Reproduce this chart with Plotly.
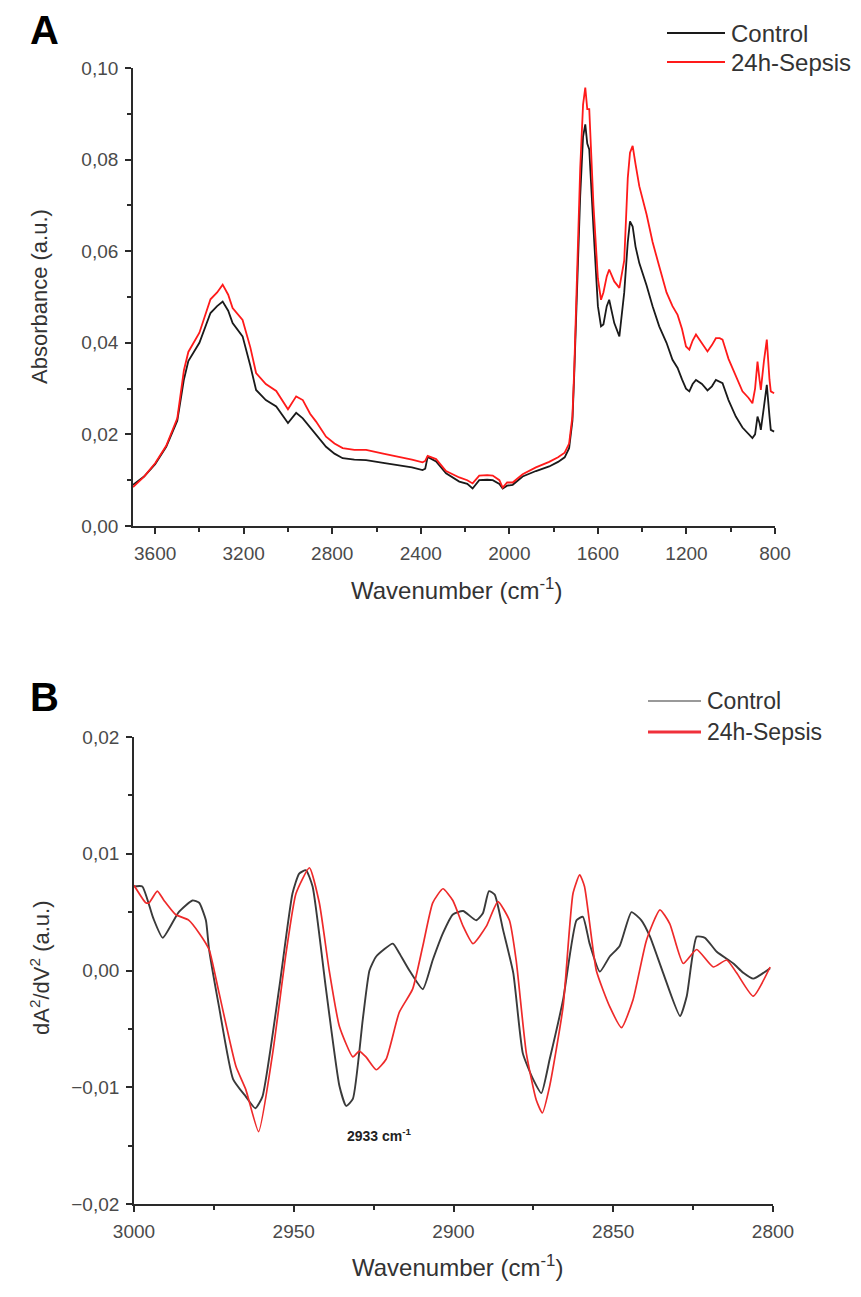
import plotly.graph_objects as go

# ---------------- Panel A data ----------------
a_wavenumber = [3700, 3650, 3600, 3550, 3500, 3470, 3450, 3400, 3350, 3320, 3295, 3270, 3250, 3205, 3170,
                3144, 3100, 3053, 3000, 2963, 2933, 2900, 2873, 2828, 2790, 2753, 2700, 2647, 2570, 2497,
                2440, 2392, 2380, 2369, 2331, 2286, 2226, 2190, 2166, 2136, 2100, 2075, 2045, 2030, 2010,
                1985, 1960, 1940, 1880, 1820, 1780, 1750, 1730, 1715, 1707, 1695, 1680, 1667, 1657, 1648,
                1639, 1620, 1600, 1586, 1575, 1560, 1549, 1526, 1503, 1481, 1465, 1455, 1443, 1430, 1413,
                1380, 1353, 1323, 1290, 1263, 1240, 1220, 1202, 1187, 1172, 1157, 1130, 1105, 1085, 1067,
                1050, 1037, 1010, 977, 947, 920, 902, 890, 879, 870, 864, 850, 837, 825, 819, 804]
a_control = [0.0090, 0.0108, 0.0135, 0.0173, 0.0230, 0.0320, 0.0360, 0.0400, 0.0465, 0.0480, 0.0490, 0.0470,
             0.0443, 0.0414, 0.0350, 0.0297, 0.0275, 0.0261, 0.0225, 0.0247, 0.0235, 0.0215, 0.0199, 0.0173,
             0.0158, 0.0148, 0.0145, 0.0144, 0.0138, 0.0133, 0.0128, 0.0122, 0.0125, 0.0151, 0.0141, 0.0115,
             0.0097, 0.0092, 0.0082, 0.0100, 0.0101, 0.0100, 0.0092, 0.0082, 0.0088, 0.0090, 0.0100, 0.0108,
             0.0120, 0.0130, 0.0140, 0.0150, 0.0170, 0.0230, 0.0330, 0.0520, 0.0720, 0.0850, 0.0877, 0.0835,
             0.0822, 0.0650, 0.0480, 0.0436, 0.0440, 0.0480, 0.0494, 0.0443, 0.0414, 0.0510, 0.0620, 0.0665,
             0.0654, 0.0610, 0.0574, 0.0525, 0.0480, 0.0436, 0.0400, 0.0363, 0.0345, 0.0320, 0.0300, 0.0294,
             0.0310, 0.0319, 0.0310, 0.0296, 0.0305, 0.0319, 0.0316, 0.0312, 0.0275, 0.0239, 0.0215, 0.0200,
             0.0192, 0.0200, 0.0239, 0.0225, 0.0210, 0.0260, 0.0308, 0.0240, 0.0210, 0.0206]
a_sepsis = [0.0085, 0.0108, 0.0137, 0.0175, 0.0235, 0.0340, 0.0380, 0.0422, 0.0495, 0.0510, 0.0527, 0.0505,
            0.0476, 0.0450, 0.0390, 0.0334, 0.0310, 0.0295, 0.0255, 0.0283, 0.0275, 0.0245, 0.0228, 0.0195,
            0.0180, 0.0170, 0.0166, 0.0166, 0.0158, 0.0151, 0.0145, 0.0139, 0.0142, 0.0153, 0.0146, 0.0120,
            0.0106, 0.0100, 0.0093, 0.0110, 0.0111, 0.0110, 0.0100, 0.0084, 0.0095, 0.0095, 0.0105, 0.0113,
            0.0128, 0.0140, 0.0150, 0.0160, 0.0180, 0.0240, 0.0340, 0.0560, 0.0780, 0.0920, 0.0957, 0.0910,
            0.0910, 0.0700, 0.0540, 0.0494, 0.0510, 0.0545, 0.0560, 0.0534, 0.0520, 0.0580, 0.0760, 0.0815,
            0.0830, 0.0790, 0.0742, 0.0680, 0.0620, 0.0567, 0.0510, 0.0480, 0.0461, 0.0430, 0.0392, 0.0385,
            0.0405, 0.0418, 0.0400, 0.0381, 0.0395, 0.0410, 0.0410, 0.0407, 0.0365, 0.0326, 0.0294, 0.0280,
            0.0268, 0.0300, 0.0359, 0.0320, 0.0297, 0.0360, 0.0407, 0.0320, 0.0294, 0.0290]

# ---------------- Panel B data ----------------
b_control_wn = [3000, 2997.4, 2994, 2991, 2986, 2981.7, 2979.6, 2977.5, 2976.5, 2973.4, 2969, 2965, 2962,
                2959.8, 2954.5, 2950.4, 2948.3, 2946.2, 2944.1, 2940, 2935.7, 2933.6, 2931.5, 2928.4, 2926.3,
                2924.2, 2919, 2917, 2913.8, 2909.6, 2906.5, 2903.3, 2900.2, 2897, 2892.9, 2890.8, 2888.9,
                2887.1, 2884.5, 2881.3, 2878.3, 2875.1, 2872.5, 2869.9, 2865.7, 2861.5, 2859.5, 2857.4,
                2854.2, 2851.1, 2848, 2844.3, 2841.2, 2838.5, 2834.4, 2829.1, 2827, 2823.9, 2821.3, 2817.6,
                2812.4, 2809.3, 2806.2, 2800.9]
b_control = [0.0072, 0.0072, 0.0045, 0.0028, 0.0050, 0.0060, 0.0058, 0.0043, 0.0018, -0.0031, -0.0093,
             -0.0108, -0.0118, -0.0108, -0.0014, 0.0066, 0.0083, 0.0086, 0.0072, -0.0014, -0.0099, -0.0116,
             -0.0110, -0.0042, 0.0000, 0.0012, 0.0023, 0.0015, 0.0000, -0.0016, 0.0009, 0.0032, 0.0048,
             0.0051, 0.0043, 0.0049, 0.0068, 0.0065, 0.0035, -0.0002, -0.0071, -0.0093, -0.0105, -0.0076,
             -0.0025, 0.0043, 0.0046, 0.0023, -0.0001, 0.0012, 0.0021, 0.0050, 0.0043, 0.0029, -0.0002,
             -0.0039, -0.0022, 0.0029, 0.0028, 0.0016, 0.0006, -0.0002, -0.0007, 0.0002]
b_sepsis_wn = [3000, 2996.3, 2995.3, 2992.7, 2990.6, 2987, 2982.8, 2979.6, 2976.5, 2973.4, 2968.1, 2965,
               2961, 2956.6, 2952.4, 2949.3, 2945.1, 2942, 2938.9, 2935.7, 2931.5, 2929.5, 2927.4, 2924.2,
               2921.1, 2917, 2912.8, 2909.6, 2906.5, 2903.3, 2900.2, 2897, 2893.9, 2889.7, 2886.1, 2882.5,
               2880.4, 2877.2, 2874.1, 2872.2, 2869.9, 2865.7, 2862.6, 2860.5, 2859, 2855.3, 2851.1, 2847.4,
               2843.8, 2839.6, 2835.4, 2832.3, 2828.1, 2823.9, 2818.7, 2814.5, 2811.4, 2806.2, 2800.9]
b_sepsis = [0.0073, 0.0058, 0.0058, 0.0068, 0.0060, 0.0048, 0.0043, 0.0032, 0.0018, -0.0019, -0.0082,
            -0.0102, -0.0138, -0.0071, 0.0015, 0.0066, 0.0088, 0.0058, 0.0000, -0.0048, -0.0074, -0.0069,
            -0.0074, -0.0085, -0.0076, -0.0036, -0.0016, 0.0021, 0.0058, 0.0070, 0.0060, 0.0038, 0.0023,
            0.0038, 0.0059, 0.0043, 0.0009, -0.0071, -0.0111, -0.0122, -0.0099, -0.0031, 0.0066, 0.0082,
            0.0072, 0.0000, -0.0031, -0.0049, -0.0025, 0.0026, 0.0052, 0.0040, 0.0006, 0.0018, 0.0003,
            0.0009, -0.0002, -0.0022, 0.0003]

series_names = ["Control", "24h-Sepsis"]
a_colors = ["#1a1a1a", "#ff1a1a"]
b_colors = ["#3a3a3a", "#ee2a2a"]

W, H = 861, 1297
FONT = "Liberation Sans, Arial, sans-serif"


def px_x(p):
    return p / W


def px_y(p):
    return 1 - p / H


fig = go.Figure()
fig.add_trace(go.Scatter(x=a_wavenumber, y=a_control, mode="lines", name=series_names[0],
                         line=dict(color=a_colors[0], width=1.8), xaxis="x", yaxis="y", showlegend=False))
fig.add_trace(go.Scatter(x=a_wavenumber, y=a_sepsis, mode="lines", name=series_names[1],
                         line=dict(color=a_colors[1], width=1.8), xaxis="x", yaxis="y", showlegend=False))
fig.add_trace(go.Scatter(x=b_control_wn, y=b_control, mode="lines", name=series_names[0],
                         line=dict(color=b_colors[0], width=1.9, shape="spline", smoothing=0.5),
                         xaxis="x2", yaxis="y2", showlegend=False))
fig.add_trace(go.Scatter(x=b_sepsis_wn, y=b_sepsis, mode="lines", name=series_names[1],
                         line=dict(color=b_colors[1], width=1.7, shape="spline", smoothing=0.5),
                         xaxis="x2", yaxis="y2", showlegend=False))

axis_common = dict(showline=True, linecolor="#2a2a2a", linewidth=1.8, ticks="outside", ticklen=6,
                   tickwidth=1.5, tickcolor="#2a2a2a", showgrid=False, zeroline=False, mirror=False,
                   automargin=False, ticklabelstandoff=3,
                   tickfont=dict(family=FONT, size=19, color="#4a4a4a"))
minor_common = dict(ticks="outside", ticklen=4, tickcolor="#2a2a2a", tickwidth=1.5)

fig.update_layout(
    template="none",
    width=W, height=H,
    margin=dict(l=0, r=0, t=0, b=0, pad=0),
    paper_bgcolor="white", plot_bgcolor="white",
    separators=",.",
    xaxis=dict(domain=[px_x(133), px_x(775)], range=[3700, 800],
               tickvals=[3600, 3200, 2800, 2400, 2000, 1600, 1200, 800],
               minor=dict(tickvals=[3400, 3000, 2600, 2200, 1800, 1400, 1000], **minor_common),
               anchor="y", **axis_common),
    yaxis=dict(domain=[px_y(526), px_y(68)], range=[0, 0.10], dtick=0.02, tick0=0, tickformat=".2f",
               minor=dict(dtick=0.01, **minor_common),
               anchor="x", **axis_common),
    xaxis2=dict(domain=[px_x(134), px_x(773)], range=[3000, 2800], tickvals=[3000, 2950, 2900, 2850, 2800],
                minor=dict(tickvals=[2975, 2925, 2875, 2825], **minor_common),
                anchor="y2", **axis_common),
    yaxis2=dict(domain=[px_y(1204), px_y(737)], range=[-0.02, 0.02], dtick=0.01, tick0=0, tickformat=".2f",
                minor=dict(dtick=0.005, **minor_common),
                anchor="x2", **axis_common),
)

annots = []
shapes = []
# Panel letters
for letter, yy in (("A", 30), ("B", 697)):
    annots.append(dict(text="<b>%s</b>" % letter, x=px_x(44), y=px_y(yy), xref="paper", yref="paper",
                       xanchor="center", yanchor="middle", showarrow=False,
                       font=dict(family=FONT, size=40, color="black")))
# Axis titles
ytitle_font = dict(family=FONT, size=22, color="#333333")
xtitle_font = dict(family=FONT, size=24, color="#333333")
annots.append(dict(text="Absorbance (a.u.)", x=px_x(40), y=px_y(297), xref="paper", yref="paper",
                   xanchor="center", yanchor="middle", showarrow=False, textangle=-90, font=ytitle_font))
annots.append(dict(text="Wavenumber (cm<sup>-1</sup>)", x=px_x(456), y=px_y(589), xref="paper", yref="paper",
                   xanchor="center", yanchor="middle", showarrow=False, font=xtitle_font))
annots.append(dict(text="dA<sup>2</sup>/dV<sup>2</sup> (a.u.)", x=px_x(40), y=px_y(968), xref="paper",
                   yref="paper", xanchor="center", yanchor="middle", showarrow=False, textangle=-90,
                   font=ytitle_font))
annots.append(dict(text="Wavenumber (cm<sup>-1</sup>)", x=px_x(458), y=px_y(1266), xref="paper", yref="paper",
                   xanchor="center", yanchor="middle", showarrow=False, font=xtitle_font))
# Peak annotation
annots.append(dict(text="<b>2933 cm<sup>-1</sup></b>", x=2934, y=-0.0141, xref="x2", yref="y2",
                   xanchor="left", yanchor="middle", showarrow=False,
                   font=dict(family=FONT, size=14, color="#222222")))

# Manual legends
legendA = [(33, a_colors[0], 1.8), (62, a_colors[1], 1.8)]
for (yy, col, w), name in zip(legendA, series_names):
    shapes.append(dict(type="line", xref="paper", yref="paper", x0=px_x(667), x1=px_x(725), y0=px_y(yy),
                       y1=px_y(yy), line=dict(color=col, width=w)))
    annots.append(dict(text=name, x=px_x(729), y=px_y(yy), xref="paper", yref="paper", xanchor="left",
                       yanchor="middle", showarrow=False, font=dict(family=FONT, size=24, color="#333333")))
legendB = [(701, "#777777", 1.7), (732, "#f0303a", 2.8)]
for (yy, col, w), name in zip(legendB, series_names):
    shapes.append(dict(type="line", xref="paper", yref="paper", x0=px_x(648), x1=px_x(701), y0=px_y(yy),
                       y1=px_y(yy), line=dict(color=col, width=w)))
    annots.append(dict(text=name, x=px_x(705), y=px_y(yy), xref="paper", yref="paper", xanchor="left",
                       yanchor="middle", showarrow=False, font=dict(family=FONT, size=23, color="#333333")))

fig.update_layout(annotations=annots, shapes=shapes)
fig.write_html("out.html")
